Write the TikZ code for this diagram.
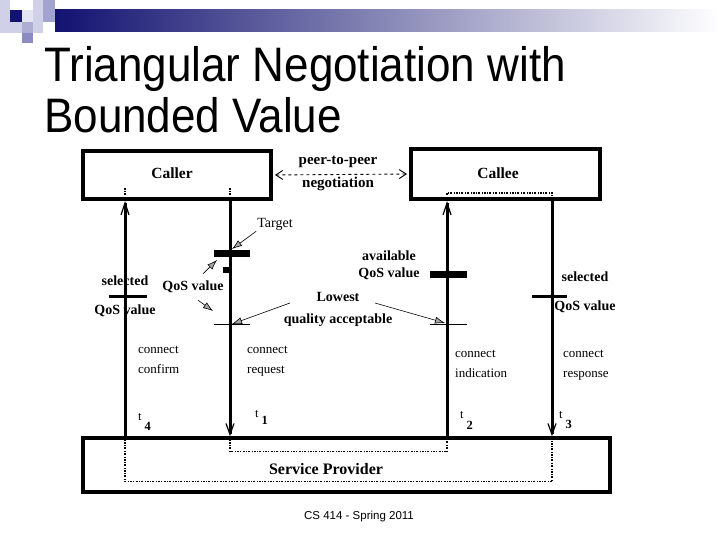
\documentclass[tikz,border=0pt]{standalone}
\usepackage{fontspec}
\setmainfont{Liberation Serif}
\newfontfamily\slidefont{Liberation Sans}
\usetikzlibrary{arrows.meta,positioning}
\definecolor{navy}{RGB}{18,18,112}
\definecolor{lav}{RGB}{140,140,195}
\definecolor{pale}{RGB}{208,208,232}
\tikzset{
  box/.style={draw,line width=4pt,inner sep=0pt},
  boxtxt/.style={font=\fontsize{15.5}{18}\selectfont\bfseries,inner sep=0pt},
  lbl/.style={font=\fontsize{14}{17}\selectfont\bfseries,align=center,inner sep=1pt},
  sig/.style={font=\fontsize{13}{20}\selectfont,align=left,anchor=north west,inner sep=0pt},
  tlbl/.style={font=\fontsize{12.5}{14}\selectfont,anchor=base west,inner sep=0pt},
  life/.style={line width=3pt},
  up/.style={life,-{Straight Barb[length=12pt,width=8pt,line width=1.2pt]}},
  dn/.style={life,-{Straight Barb[length=11pt,width=8pt,line width=1.2pt]}},
  dotp/.style={line width=1.3pt,dash pattern=on 2pt off 1.5pt on 0.6pt off 1.5pt},
  lblarr/.style={line width=0.6pt,-{Latex[length=10pt,width=7pt,fill=black!35]}},
  peer/.style={dashed,line width=0.9pt,
    {Straight Barb[length=7pt,width=9pt]}-{Straight Barb[length=7pt,width=9pt]}},
}
\newcommand{\tsub}[2]{t\hspace{3pt}\raisebox{-#2pt}{\bfseries #1}}

\begin{document}
\begin{tikzpicture}[x=1pt,y=-1pt]
\useasboundingbox (0,0) rectangle (720,540);
% slide banner
\shade[left color=navy,right color=white] (55,10) rectangle (720,32);
\fill[pale] (0,0) rectangle (10,33);
\fill[navy] (10,10) rectangle (22,22);
\fill[pale!60] (22,10) rectangle (33,22);
\fill[pale] (10,22) rectangle (22,33);
\fill[lav!70] (22,22) rectangle (33,33);
\fill[lav] (22,33) rectangle (33,43);
\fill[pale] (33,0) rectangle (43,22);
\fill[lav!80] (43,0) rectangle (55,22);
\fill[pale] (33,22) rectangle (43,33);
\node[anchor=base west,inner sep=0pt,font=\slidefont\fontsize{44}{50}\selectfont]
  (title1) at (44,82) {\scalebox{1}[1.1]{Triangular Negotiation with}};
\node[anchor=base west,inner sep=0pt,font=\slidefont\fontsize{44}{50}\selectfont]
  (title2) at (44,133) {\scalebox{1}[1.1]{Bounded Value}};
\node[font=\slidefont\fontsize{11.5}{13}\selectfont] (foot) at (359,517) {CS 414 - Spring 2011};

% boxes
\node[box,minimum width=188pt,minimum height=48pt] (caller) at (177,175) {};
\node[boxtxt] (callertxt) at (172,173) {Caller};
\node[box,minimum width=189pt,minimum height=50pt] (callee) at (505.5,174) {};
\node[boxtxt] (calleetxt) at (498,173) {Callee};
\node[box,minimum width=527pt,minimum height=53.5pt] (sp) at (346.5,465) {};
\node[boxtxt,font=\fontsize{16}{18}\selectfont\bfseries] (sptxt) at (326,469) {Service Provider};

% lifelines
\coordinate (cfm) at (125,0);
\coordinate (req) at (230,0);
\coordinate (ind) at (447,0);
\coordinate (rsp) at (552,0);
\draw[up] (sp.north -| cfm) -- (caller.south -| cfm);
\draw[dn] (caller.south -| req) -- (sp.north -| req);
\draw[up] (sp.north -| ind) -- (callee.south -| ind);
\draw[dn] (callee.south -| rsp) -- (sp.north -| rsp);

\draw[dotp] (caller.south -| cfm) -- ++(0,-13);
\draw[dotp] (caller.south -| req) -- ++(0,-13);
\draw[dotp] (callee.south -| ind) -- ++(0,-8) -| (callee.south -| rsp);
\draw[dotp] (sp.north -| req) -- ++(0,15.5) -| (sp.north -| ind);
\draw[dotp] (sp.north -| cfm) -- ++(0,45.5) -| (sp.north -| rsp);

% QoS marks
\draw[line width=3pt] (109,296) -- (147,296);
\draw[line width=7pt] (214,253) -- (250,253);
\fill (223,267) rectangle (229,273);
\draw[line width=1pt] (214,324) -- (250,324);
\draw[line width=7pt] (430,274) -- (467,274);
\draw[line width=1pt] (430,324) -- (467,324);
\draw[line width=3pt] (532,296) -- (567,296);

% negotiation
\draw[peer,shorten <=2pt,shorten >=2pt] (caller.east) -- (callee.west);
\node[lbl,font=\fontsize{15}{23}\selectfont\bfseries] (peerlbl) at (338,173.5) {peer-to-peer\\negotiation};

% labels
\node[lbl,font=\fontsize{14}{29}\selectfont\bfseries] (selL) at (125,296.5) {selected\\QoS value};
\node[lbl,font=\fontsize{14}{29}\selectfont\bfseries] (selR) at (585,292.5) {selected\\QoS value};
\node[lbl] (avail) at (389,265.5) {available\\QoS value};
\node[lbl] (qosv) at (193,287) {QoS value};
\node[lbl,font=\fontsize{14}{17}\selectfont] (target) at (275,224) {Target};
\node[lbl,font=\fontsize{14}{22}\selectfont\bfseries] (lowest) at (338,309) {Lowest\\quality acceptable};

\coordinate (tgtbar) at (232,249);
\coordinate (tgtlo) at (217,260);
\coordinate (lowtick) at (213,311);
\coordinate (lowreq) at (232,324);
\coordinate (lowind) at (445,323);
\draw[lblarr] (target.south west) -- (tgtbar);
\draw[lblarr] ([shift={(10,-6)}]qosv.north) -- (tgtlo);
\draw[lblarr] ([shift={(5,6)}]qosv.south) -- (lowtick);
\draw[lblarr] ([shift={(-48,-6)}]lowest.center) -- (lowreq);
\draw[lblarr] ([shift={(37,-6)}]lowest.center) -- (lowind);

% primitives
\node[sig] (conf) at (138,346) {connect\\confirm};
\node[sig] (reqlbl) at (247,346) {connect\\request};
\node[sig] (indlbl) at (455,350) {connect\\indication};
\node[sig] (rsplbl) at (563,350) {connect\\response};
\node[tlbl] (t4) at (138,420) {\tsub{4}{10}};
\node[tlbl] (t1) at (255,417) {\tsub{1}{7}};
\node[tlbl] (t2) at (460,418) {\tsub{2}{11}};
\node[tlbl] (t3) at (559,418) {\tsub{3}{10}};
\end{tikzpicture}
\end{document}
